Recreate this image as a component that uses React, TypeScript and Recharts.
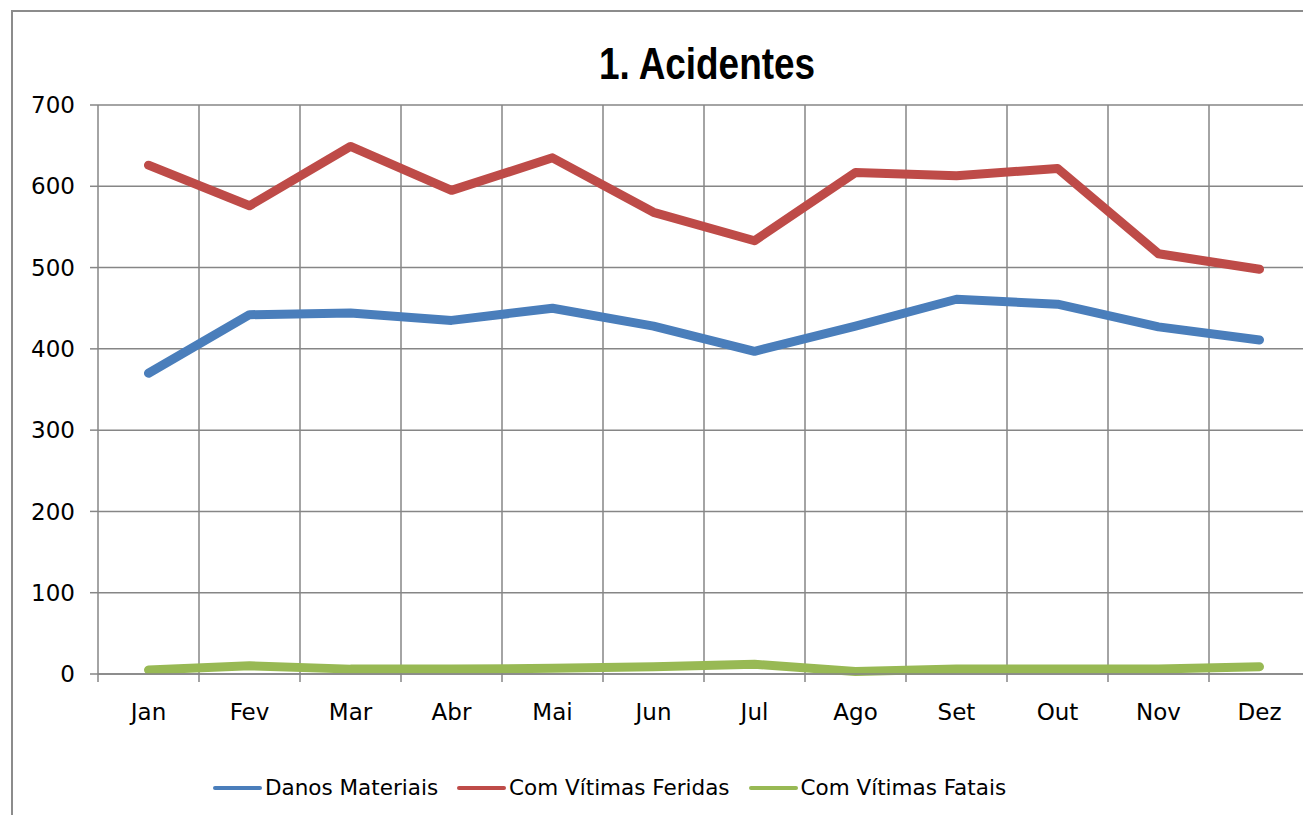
import React from 'react';
import { LineChart, Line, XAxis, YAxis, CartesianGrid } from 'recharts';

const months = ['Jan', 'Fev', 'Mar', 'Abr', 'Mai', 'Jun', 'Jul', 'Ago', 'Set', 'Out', 'Nov', 'Dez'];
const danosMateriais = [370, 442, 444, 435, 450, 428, 397, 428, 461, 455, 427, 411];
const vitimasFeridas = [626, 576, 649, 595, 635, 568, 533, 617, 613, 622, 517, 498];
const vitimasFatais = [5, 10, 6, 6, 7, 9, 12, 3, 6, 6, 6, 9];
const yTicks = [0, 100, 200, 300, 400, 500, 600, 700];

const seriesNames = ['Danos Materiais', 'Com Vítimas Feridas', 'Com Vítimas Fatais'];
const seriesColors = ['#4a7ebb', '#be4b48', '#98b954'];

const data = months.map((m, i) => ({
  month: m,
  danos: danosMateriais[i],
  feridas: vitimasFeridas[i],
  fatais: vitimasFatais[i],
}));

const FONT = "Verdana, 'DejaVu Sans', sans-serif";
const GRID = '#868686';

const CHART_W = 1303;
const CHART_H = 807;
const MARGIN = { top: 97, right: 1, bottom: 81, left: 0 };
const Y_W = 90;
const PLOT_W = CHART_W - MARGIN.left - MARGIN.right - Y_W;
const BAND = PLOT_W / months.length;

const XTick = (props: any) => {
  const { x, y, payload } = props;
  const bx = x - BAND / 2;
  return (
    <g>
      <line x1={bx} y1={y} x2={bx} y2={y + 8} stroke={GRID} strokeWidth={1.5} />
      <text x={x} y={y + 46} textAnchor="middle" fill="#000" fontSize={23} fontFamily={FONT}>
        {payload.value}
      </text>
    </g>
  );
};

export default function App() {
  return (
    <div style={{ position: 'relative', width: 1303, height: 807, overflow: 'hidden' }}>
      <div
        style={{
          position: 'absolute',
          left: 3,
          top: 2,
          width: 1400,
          height: 900,
          border: '2px solid #8c8c8c',
          boxSizing: 'border-box',
        }}
      />
      <div
        style={{
          position: 'absolute',
          left: 0,
          top: 0,
          width: CHART_W,
          height: CHART_H,
        }}
      >
        <LineChart width={CHART_W} height={CHART_H} data={data} margin={MARGIN}>
          <CartesianGrid
            stroke={GRID}
            strokeWidth={1.5}
            verticalCoordinatesGenerator={({ offset }: any) =>
              months.slice(1).map((_, i) => offset.left + (i + 1) * (offset.width / months.length))
            }
          />
          <XAxis
            dataKey="month"
            axisLine={{ stroke: GRID, strokeWidth: 1.5 }}
            tickLine={false}
            tickSize={0}
            tickMargin={0}
            height={60}
            interval={0}
            padding={{ left: BAND / 2, right: BAND / 2 }}
            tick={<XTick />}
          />
          <YAxis
            width={Y_W}
            domain={[0, 700]}
            ticks={yTicks}
            interval={0}
            axisLine={{ stroke: GRID, strokeWidth: 1.5 }}
            tickLine={{ stroke: GRID, strokeWidth: 1.5 }}
            tickSize={8}
            tickMargin={15}
            tick={{ fill: '#000', fontSize: 23, fontFamily: FONT }}
          />
          <Line dataKey="danos" name={seriesNames[0]} stroke={seriesColors[0]} strokeWidth={9} dot={false} isAnimationActive={false} strokeLinecap="round" strokeLinejoin="round" />
          <Line dataKey="feridas" name={seriesNames[1]} stroke={seriesColors[1]} strokeWidth={9} dot={false} isAnimationActive={false} strokeLinecap="round" strokeLinejoin="round" />
          <Line dataKey="fatais" name={seriesNames[2]} stroke={seriesColors[2]} strokeWidth={9} dot={false} isAnimationActive={false} strokeLinecap="round" strokeLinejoin="round" />
        </LineChart>
      </div>
      <div
        style={{
          position: 'absolute',
          left: 699,
          top: 31,
          transform: 'translateX(-50%) scaleX(0.82)',
          fontFamily: "'Liberation Sans', Arial, sans-serif",
          fontWeight: 'bold',
          fontSize: 45,
          lineHeight: '50px',
          whiteSpace: 'nowrap',
          color: '#000',
        }}
      >
        1. Acidentes
      </div>
      <div
        style={{
          position: 'absolute',
          left: 205,
          top: 767,
          display: 'flex',
          alignItems: 'center',
          gap: 19,
          fontFamily: FONT,
          fontSize: 21.5,
          color: '#000',
          whiteSpace: 'nowrap',
        }}
      >
        {seriesNames.map((n, i) => (
          <div key={n} style={{ display: 'flex', alignItems: 'center' }}>
            <div style={{ width: 49, height: 4, background: seriesColors[i], marginRight: 3, borderRadius: 2 }} />
            <span>{n}</span>
          </div>
        ))}
      </div>
    </div>
  );
}
